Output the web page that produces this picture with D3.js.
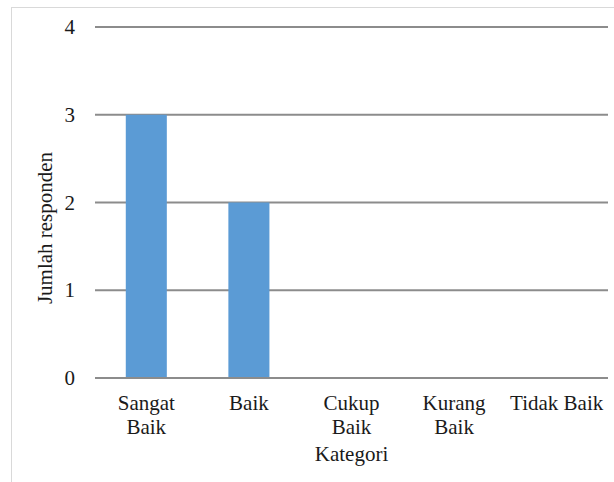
<!DOCTYPE html>
<html>
<head>
<meta charset="utf-8">
<script src="https://cdn.jsdelivr.net/npm/d3@7"></script>
<style>
  html, body { margin: 0; padding: 0; background: #fff; }
  svg { display: block; }
  svg text { font-family: "Times New Roman", "Liberation Serif", Tinos, Times, "DejaVu Serif", serif !important; fill: #1a1a1a; }
</style>
</head>
<body>
<svg id="chart" width="614" height="482"></svg>
<script>
// Response counts per rating category
const categories = ["Sangat Baik", "Baik", "Cukup Baik", "Kurang Baik", "Tidak Baik"];
const categoryLines = [["Sangat", "Baik"], ["Baik"], ["Cukup", "Baik"], ["Kurang", "Baik"], ["Tidak Baik"]];
const values = [3, 2, 0, 0, 0];
const yTicks = [0, 1, 2, 3, 4];

const svg = d3.select("#chart");
const W = 614, H = 482;
const plot = { left: 95, right: 608, top: 27, bottom: 378 };
const fontSize = 21;

// outer frame (only top and left edges fall inside the view)
svg.append("rect")
  .attr("x", 11.5).attr("y", 7.5)
  .attr("width", W).attr("height", H)
  .attr("fill", "#fff").attr("stroke", "#d9d9d9").attr("stroke-width", 1);

const x = d3.scaleBand().domain(categories).range([plot.left, plot.right]).paddingInner(0.6).paddingOuter(0.3);
const y = d3.scaleLinear().domain([0, 4]).range([plot.bottom, plot.top]);

// horizontal gridlines
svg.append("g").selectAll("line").data(yTicks.filter(d => d > 0)).join("line")
  .attr("x1", plot.left).attr("x2", plot.right)
  .attr("y1", d => y(d)).attr("y2", d => y(d))
  .attr("stroke", "#8c8c8c").attr("stroke-width", 1.8);

// bars
svg.append("g").selectAll("rect").data(categories).join("rect")
  .attr("x", d => x(d))
  .attr("width", x.bandwidth())
  .attr("y", (d, i) => y(values[i]))
  .attr("height", (d, i) => y(0) - y(values[i]))
  .attr("fill", "#5b9bd5");

// baseline axis
svg.append("line")
  .attr("x1", plot.left).attr("x2", plot.right)
  .attr("y1", y(0)).attr("y2", y(0))
  .attr("stroke", "#8c8c8c").attr("stroke-width", 1.8);

// y tick labels
const yAxis = d3.axisLeft(y).tickValues(yTicks).tickSize(0).tickPadding(0).tickFormat(d3.format("d"));
const yg = svg.append("g").attr("transform", `translate(75,0)`).call(yAxis);
yg.attr("font-family", null).attr("font-size", null);
yg.select(".domain").remove();
yg.selectAll("text").attr("font-size", fontSize).attr("fill", "#1a1a1a");

// x category labels (wrapped)
const xg = svg.append("g");
categories.forEach((c, i) => {
  const cx = x(c) + x.bandwidth() / 2;
  const t = xg.append("text")
    .attr("x", cx)
    .attr("y", 410)
    .attr("text-anchor", "middle")
    .attr("font-size", fontSize);
  categoryLines[i].forEach((line, j) => {
    t.append("tspan").attr("x", cx).attr("dy", j === 0 ? 0 : 24).text(line);
  });
});

// axis titles
svg.append("text")
  .attr("x", (plot.left + plot.right) / 2).attr("y", 461)
  .attr("text-anchor", "middle").attr("font-size", fontSize)
  .text("Kategori");

svg.append("text")
  .attr("transform", `translate(52,228) rotate(-90)`)
  .attr("text-anchor", "middle").attr("font-size", fontSize)
  .text("Jumlah responden");
</script>
</body>
</html>
